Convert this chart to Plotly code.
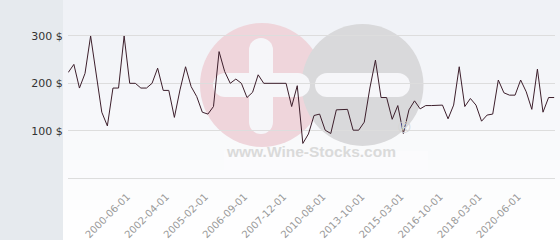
import plotly.graph_objects as go

# ---- data ----
prices = [223, 240, 190, 221, 300, 220, 139, 110, 190, 190,
          300, 200, 200, 190, 190, 200, 232, 185, 185, 128,
          186, 235, 193, 172, 139, 135, 151, 267, 225, 200,
          209, 200, 170, 181, 218, 200, 200, 200, 200, 200,
          151, 195, 73, 93, 132, 135, 101, 94, 144, 145,
          145, 101, 101, 118, 190, 249, 170, 170, 124, 153,
          94, 144, 163, 146, 153, 153, 153, 154, 125, 154,
          235, 151, 168, 154, 120, 133, 135, 207, 180, 175,
          175, 207, 182, 145, 230, 139, 170, 170]
point_index = list(range(len(prices)))
tick_positions = [10, 17, 24, 31, 38, 45, 52, 59, 66, 73, 80]
tick_labels = ["2000-06-01", "2002-04-01", "2005-02-01", "2006-09-01", "2007-12-01",
               "2010-08-01", "2013-10-01", "2015-03-01", "2016-10-01", "2018-03-01",
               "2020-06-01"]
y_ticks = [100, 200, 300]
y_tick_text = ["100 $", "200 $", "300 $"]

W, H = 560, 240
ML, MR, MT, MB = 68, 5, 0, 62
PW, PH = W - ML - MR, H - MT - MB


def px(x):
    return (x - ML) / PW


def py(y):
    return (H - MB - y) / PH


shapes = []
# gradient background
top = (239, 241, 246)
n = 24
for i in range(n):
    t = i / (n - 1)
    c = tuple(round(top[k] + (255 - top[k]) * t) for k in range(3))
    shapes.append(dict(type="rect", xref="paper", yref="paper", layer="below",
                       x0=px(63), x1=px(W), y0=py(i * H / n), y1=py((i + 1) * H / n + 1),
                       fillcolor="rgb(%d,%d,%d)" % c, line_width=0))
# left panel
shapes.append(dict(type="rect", xref="paper", yref="paper", layer="below",
                   x0=px(0), x1=px(63), y0=py(0), y1=py(H),
                   fillcolor="#e6eaee", line_width=0))

# watermark
pink = "#efd5db"
grey = "#d9d9db"
bar = "#f6f6f9"


def circ(cx, cy, r, col):
    shapes.append(dict(type="circle", xref="paper", yref="paper", layer="below",
                       x0=px(cx - r), x1=px(cx + r), y0=py(cy + r), y1=py(cy - r),
                       fillcolor=col, line_width=0))


def rrect(x0, x1, y0, y1, col):
    r = (y1 - y0) / 2 if (y1 - y0) < (x1 - x0) else (x1 - x0) / 2
    if (x1 - x0) > (y1 - y0):
        shapes.append(dict(type="rect", xref="paper", yref="paper", layer="below",
                           x0=px(x0 + r), x1=px(x1 - r), y0=py(y1), y1=py(y0),
                           fillcolor=col, line_width=0))
        circ(x0 + r, (y0 + y1) / 2, r, col)
        circ(x1 - r, (y0 + y1) / 2, r, col)
    else:
        shapes.append(dict(type="rect", xref="paper", yref="paper", layer="below",
                           x0=px(x0), x1=px(x1), y0=py(y1 - r), y1=py(y0 + r),
                           fillcolor=col, line_width=0))
        circ((x0 + x1) / 2, y0 + r, r, col)
        circ((x0 + x1) / 2, y1 - r, r, col)


circ(262, 85, 62, pink)
circ(362.5, 85, 61, grey)
rrect(249, 273, 38, 134, bar)
rrect(213, 310, 73, 97, bar)
rrect(315, 410, 73, 97, bar)
shapes.append(dict(type="rect", xref="paper", yref="paper", layer="below",
                   x0=px(224), x1=px(428), y0=py(174), y1=py(151),
                   fillcolor="#fbfbfd", line_width=0))

annotations = [
    dict(text="<b>www.Wine-Stocks.com</b>", xref="paper", yref="paper",
         x=px(311), y=py(162), showarrow=False,
         font=dict(family="Liberation Sans", size=15.5, color="#dadada")),
    dict(text="®", xref="paper", yref="paper", x=px(413), y=py(139), showarrow=False,
         font=dict(family="Liberation Sans", size=17, color="#d5d5d5")),
]

fig = go.Figure(go.Scatter(x=point_index, y=prices, mode="lines",
                           line=dict(color="#3d1f2c", width=1), hoverinfo="skip"))
fig.update_layout(
    width=W, height=H, margin=dict(l=ML, r=MR, t=MT, b=MB),
    paper_bgcolor="#ffffff", plot_bgcolor="rgba(0,0,0,0)",
    showlegend=False, shapes=shapes, annotations=annotations,
    xaxis=dict(range=[-0.05, 87.15], tickmode="array", tickvals=tick_positions,
               ticktext=tick_labels, tickangle=-45, showgrid=False, zeroline=False,
               showline=True, linecolor="#dddddd", linewidth=1,
               ticks="", ticklabelstandoff=8, ticklabelshift=3,
               tickfont=dict(family="DejaVu Sans", size=10, color="#999999")),
    yaxis=dict(range=[0, 376], tickmode="array", tickvals=y_ticks, ticktext=y_tick_text,
               showgrid=True, gridcolor="#dddddd", gridwidth=1, zeroline=False,
               ticks="outside", ticklen=2, tickcolor="rgba(0,0,0,0)",
               tickfont=dict(family="DejaVu Sans", size=11, color="#333333")),
)
fig.write_html("out.html")
